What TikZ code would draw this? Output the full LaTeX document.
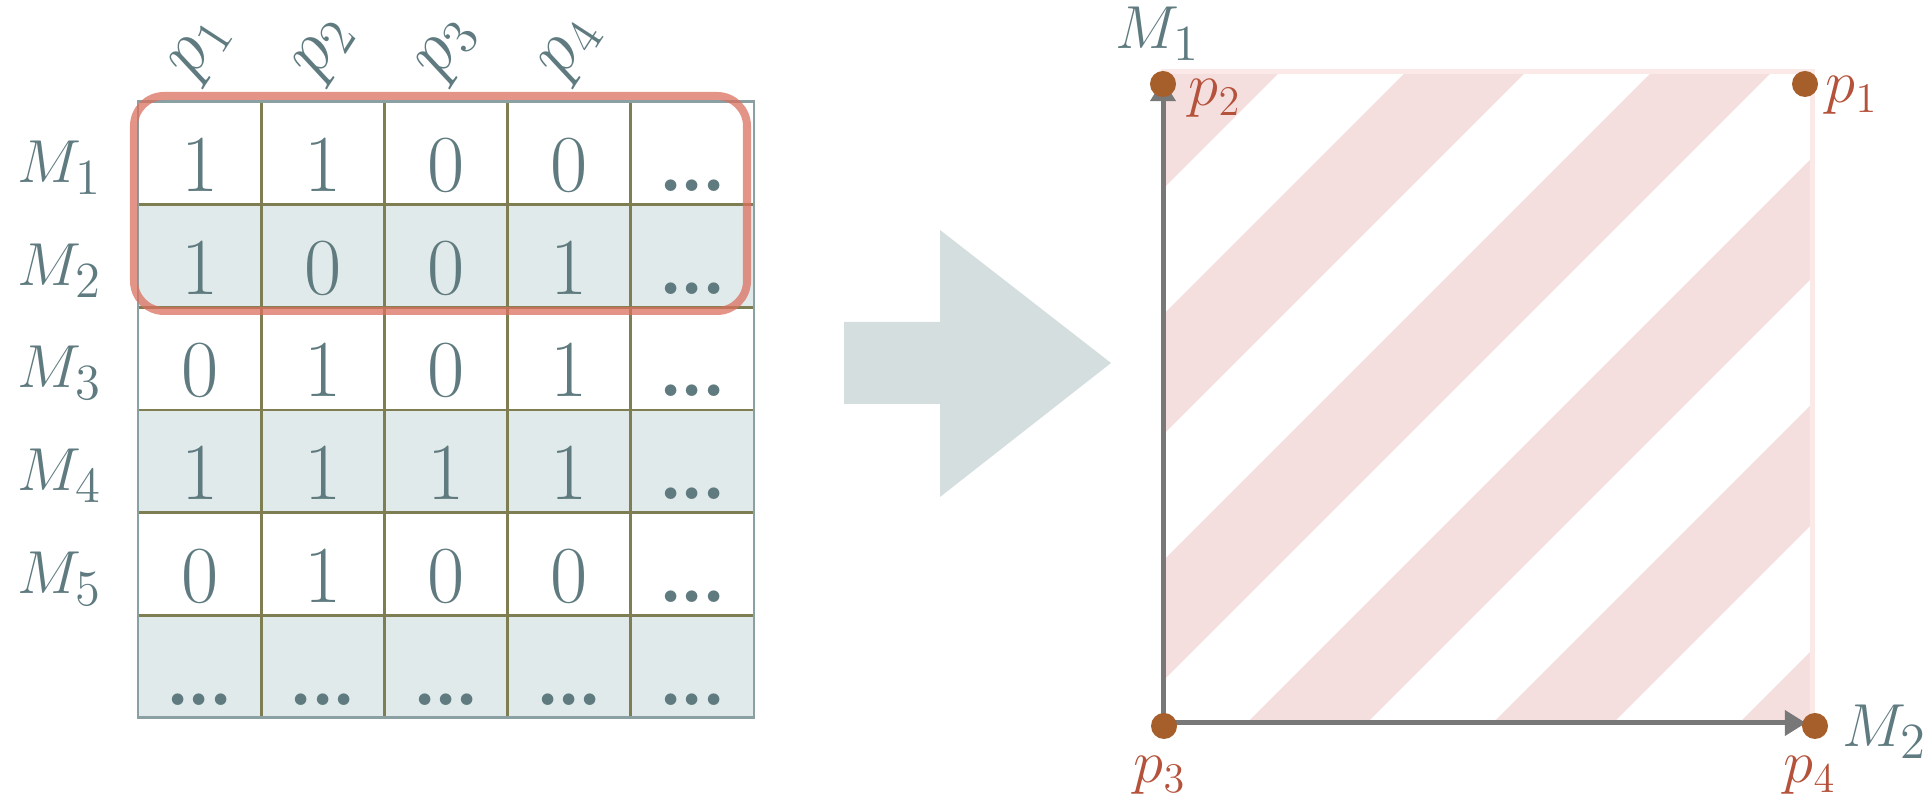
\documentclass[tikz,border=0pt]{standalone}
\usepackage{fontspec}
\usetikzlibrary{arrows.meta}
\definecolor{txt}{HTML}{5F7B80}
\definecolor{redlab}{HTML}{B5523B}
\definecolor{dotc}{HTML}{A65E2A}
\definecolor{rowshade}{HTML}{E1EAEA}
\definecolor{olive}{HTML}{7F7E52}
\definecolor{framec}{HTML}{8BA0A3}
\definecolor{boxred}{HTML}{D9705E}
\definecolor{arrowc}{HTML}{D4DEDE}
\definecolor{stripe}{HTML}{F5DEDE}
\definecolor{sqborder}{HTML}{FBE9E7}
\definecolor{axisc}{HTML}{787878}
\newcommand\mydots{{\bfseries .\kern-0.05em.\kern-0.05em.}}
\begin{document}
\begin{tikzpicture}[x=0.01cm,y=-0.01cm,
  cell/.style={font=\fontsize{23}{25}\selectfont, text=txt, anchor=base, inner sep=0pt},
  rowlab/.style={font=\fontsize{19}{21}\selectfont, text=txt, anchor=base, inner sep=0pt},
  collab/.style={font=\fontsize{20}{22}\selectfont, text=txt, rotate=57, inner sep=0pt},
  ptlab/.style={font=\fontsize{18}{20}\selectfont, text=redlab, inner sep=0pt},
  axlab/.style={font=\fontsize{19}{21}\selectfont, text=txt, inner sep=0pt},
  ptdot/.style={circle, fill=dotc, minimum size=0.26cm, inner sep=0pt},
  axisline/.style={draw=axisc, line width=1.42pt, -{Triangle[length=6pt,width=7pt]}},
  gridline/.style={draw=olive, line width=0.85pt},
]
\useasboundingbox (0,0) rectangle (1932,804);
% ---------- table ----------
\foreach \r in {1,3,5}
  \fill[rowshade] (138,{102+102.67*\r}) rectangle (754,{102+102.67*(\r+1)});
\foreach \i in {1,...,4}
  \draw[gridline] ({138+123.2*\i},102) -- ({138+123.2*\i},718);
\foreach \j in {1,...,5}
  \draw[gridline] (138,{102+102.67*\j}) -- (754,{102+102.67*\j});
\draw[framec, line width=0.85pt] (138,102) rectangle (754,718);
\foreach \r/\vals in {1/{1,1,0,0,\mydots},2/{1,0,0,1,\mydots},3/{0,1,0,1,\mydots},4/{1,1,1,1,\mydots},5/{0,1,0,0,\mydots},6/{\mydots,\mydots,\mydots,\mydots,\mydots}}{
  \foreach \v [count=\c] in \vals {
    \node[cell] (c\r\c) at ({138+123.2*(\c-0.5)},{102+102.67*\r-13}) {\v};
  }
}
\foreach \r in {1,...,5}
  \node[rowlab] (m\r) at (60,{102+102.67*\r-22}) {$M_{\r}$};
\foreach \c in {1,...,4}
  \node[collab] (p\c) at ({138+123.2*(\c-0.5)+3},50) {$p_{\c}$};
\draw[boxred, draw opacity=0.75, line width=2.28pt, rounded corners=0.3cm] (134,96) rectangle (747,311);
% ---------- big arrow ----------
\fill[arrowc] (844,322) -- (940,322) -- (940,230) -- (1111,363) -- (940,497) -- (940,404) -- (844,404) -- cycle;
% ---------- square ----------
\begin{scope}
  \clip (1163,75) rectangle (1810,723);
  \foreach \s in {1232,1478,1724,1970,2216,2462}
    \fill[stripe] (\s,0) -- ({\s+120},0) -- ({\s+120-800},800) -- ({\s-800},800) -- cycle;
\end{scope}
\draw[sqborder, line width=1.42pt] (1163,71.5) rectangle (1812.5,723);
\coordinate (O) at (1163,723);
\coordinate (Ytop) at (1163,80);
\coordinate (Xend) at (1806,723);
\draw[axisline] (O) -- (Ytop);
\draw[axisline] (O) -- (Xend);
\node[ptdot] (d2) at (1163,84) {};
\node[ptdot] (d1) at (1805,84) {};
\node[ptdot] (d3) at (1164,726) {};
\node[ptdot] (d4) at (1815,726) {};
\node[ptlab, anchor=base west] (l2) at (1188,106) {$p_2$};
\node[ptlab, anchor=base west] (l1) at (1825,103) {$p_1$};
\node[ptlab, anchor=base] (l3) at (1160,783) {$p_3$};
\node[ptlab, anchor=base] (l4) at (1810,783) {$p_4$};
\node[axlab, anchor=base] (M1) at (1158,49) {$M_1$};
\node[axlab, anchor=base west] (M2) at (1842,747) {$M_2$};
\end{tikzpicture}
\end{document}
